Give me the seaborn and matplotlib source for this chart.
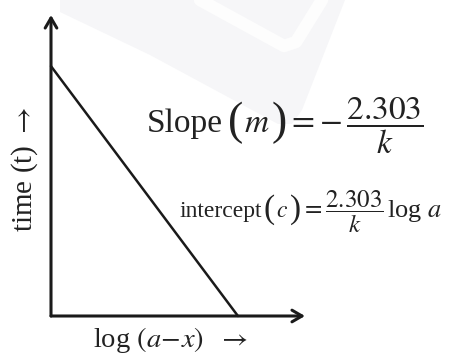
import matplotlib
matplotlib.use("Agg")
import matplotlib.pyplot as plt
from matplotlib.patches import Polygon
from matplotlib.lines import Line2D
import seaborn as sns
import pandas as pd

# Integrated first-order rate law: t = -(2.303/k) log(a-x) + (2.303/k) log a
log_a_minus_x = [0.0, 0.736]
time_t = [0.83, 0.0]

x_label = r"log $(a\!-\!x)$  $\rightarrow$"
y_label = r"time (t) $\rightarrow$"

# equation pieces: (text, fontsize, gap after in px, baseline shift in px)
slope_pieces = [
    ("Slope", 24, 5, 0),
    ("(", 33, 1, 2),
    (r"$m$", 24, 2, 0),
    (")", 33, 0, 2),
    (r"$=-\,\dfrac{2.303}{k}$", 24, 0, 0),
]
intercept_pieces = [
    ("intercept", 17, 1, 0),
    ("(", 24, 1, 1),
    (r"$c$", 17, 2, 0),
    (")", 24, 0, 1),
    (r"$=\dfrac{2.303}{k}$", 18, 4, 0),
    (r"log $a$", 19, 0, 0),
]

sns.set_theme(style="white")
plt.rcParams["font.family"] = ["Liberation Serif", "DejaVu Serif"]
plt.rcParams["mathtext.fontset"] = "stix"

W, H = 454, 354
fig = plt.figure(figsize=(W / 100, H / 100), dpi=100)
fig.patch.set_facecolor("white")
renderer = fig.canvas.get_renderer()


def fx(px):
    return px / W


def fy(py):
    return 1 - py / H


def write_row(pieces, x0, baseline, color="#222222"):
    x = x0
    for text, size, gap, shift in pieces:
        t = fig.text(fx(x), fy(baseline + shift), text, fontsize=size,
                     color=color, ha="left", va="baseline")
        bb = t.get_window_extent(renderer)
        x += bb.width + gap


# pale background emblem
emblem = Polygon(
    [(fx(60), fy(0)), (fx(345), fy(0)), (fx(302), fy(110)), (fx(292), fy(124)),
     (fx(278), fy(124)), (fx(150), fy(55)), (fx(60), fy(12))],
    closed=True, transform=fig.transFigure, facecolor="#f6f6f8",
    edgecolor="none", zorder=0)
fig.patches.append(emblem)
band = Line2D([fx(200), fx(284), fx(296), fx(322)],
              [fy(0), fy(46), fy(42), fy(0)],
              transform=fig.transFigure, color="#fdfdfd", lw=9,
              solid_joinstyle="round", zorder=0.5)
fig.lines.append(band)

ax = fig.add_axes([fx(51), fy(316), fx(305) - fx(51), fy(15) - fy(316)])
ax.set_facecolor("none")
ax.set_xlim(0, 1)
ax.set_ylim(0, 1)
for s in ax.spines.values():
    s.set_visible(False)
ax.set_xticks([])
ax.set_yticks([])

df = pd.DataFrame({"log_a_minus_x": log_a_minus_x, "time": time_t})
sns.lineplot(data=df, x="log_a_minus_x", y="time", ax=ax, color="#1a1a1a",
             linewidth=1.8, clip_on=False)
ax.set_xlabel("")
ax.set_ylabel("")

# axes drawn as arrows from the origin
arrow_kw = dict(arrowstyle="->,head_length=0.6,head_width=0.35", color="#1a1a1a",
                lw=2.2, shrinkA=0, shrinkB=0, mutation_scale=12)
ax.annotate("", xy=(1.0, 0), xytext=(0, 0), xycoords="axes fraction",
            arrowprops=arrow_kw, annotation_clip=False)
ax.annotate("", xy=(0, 1.0), xytext=(0, 0), xycoords="axes fraction",
            arrowprops=arrow_kw, annotation_clip=False)

write_row(slope_pieces, 147, 132)
write_row(intercept_pieces, 180, 217)

fig.text(fx(25), fy(170), y_label, fontsize=21, color="#222222",
         rotation=90, ha="center", va="center")
fig.text(fx(93), fy(340), x_label, fontsize=20.5, color="#222222",
         ha="left", va="center")

fig.savefig("out.png", dpi=100, facecolor="white")
